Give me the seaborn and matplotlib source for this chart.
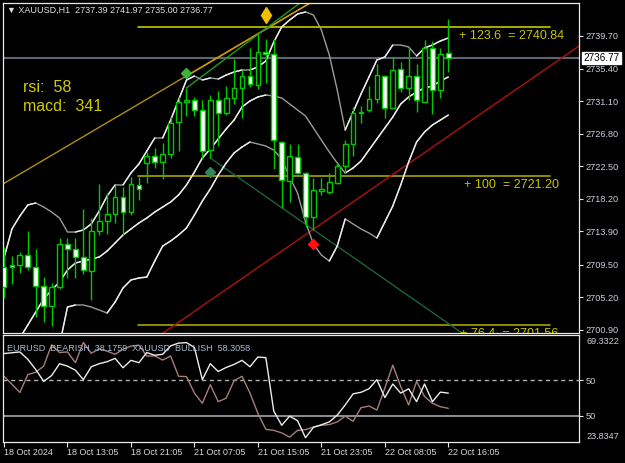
import matplotlib
matplotlib.use("Agg")
import matplotlib.pyplot as plt
import matplotlib.transforms as mtransforms
import seaborn as sns
import numpy as np
import pandas as pd

# ---------------- data ----------------
open_ = [2709.21, 2709.48, 2709.48, 2710.80, 2709.21, 2706.70, 2704.06, 2706.57, 2712.25, 2711.59,
         2710.53, 2708.68, 2713.96, 2715.28, 2716.21, 2718.45, 2716.47, 2720.04, 2722.94, 2723.86,
         2723.07, 2724.13, 2728.35, 2730.99, 2731.25, 2729.93, 2724.65, 2731.25, 2729.54, 2731.52,
         2732.84, 2734.42, 2733.23, 2737.59, 2737.32, 2725.71, 2720.56, 2723.73, 2721.62, 2715.81,
         2719.24, 2719.11, 2720.30, 2722.54, 2725.45, 2729.54, 2729.93, 2731.38, 2734.42, 2730.20,
         2735.34, 2732.84, 2734.42, 2730.99, 2738.12, 2732.57, 2737.39]
high = [2711.85, 2710.66, 2711.19, 2713.96, 2711.59, 2707.89, 2707.10, 2713.04, 2713.04, 2713.04,
        2716.87, 2715.68, 2720.17, 2718.98, 2720.04, 2719.77, 2721.09, 2721.09, 2724.39, 2724.92,
        2725.58, 2729.01, 2731.65, 2732.84, 2731.65, 2731.25, 2731.91, 2732.44, 2733.10, 2736.66,
        2735.21, 2738.12, 2740.10, 2739.30, 2739.30, 2725.90, 2725.45, 2725.45, 2721.75, 2720.96,
        2720.96, 2721.62, 2723.07, 2725.97, 2730.33, 2730.46, 2733.10, 2736.00, 2734.55, 2736.93,
        2736.27, 2738.12, 2736.00, 2739.17, 2739.04, 2738.12, 2741.97]
low = [2705.12, 2706.97, 2708.42, 2708.82, 2702.61, 2701.95, 2701.43, 2706.31, 2707.76, 2707.76,
       2708.29, 2704.86, 2713.44, 2713.57, 2715.02, 2713.44, 2716.08, 2718.06, 2720.30, 2722.28,
       2720.83, 2723.60, 2724.52, 2729.14, 2729.14, 2723.60, 2723.60, 2725.18, 2729.27, 2730.72,
       2728.88, 2732.97, 2732.70, 2733.50, 2722.15, 2717.00, 2717.79, 2721.49, 2714.49, 2714.10,
       2718.72, 2718.85, 2720.17, 2721.62, 2723.86, 2728.22, 2729.67, 2730.86, 2728.88, 2730.20,
       2732.31, 2731.25, 2729.67, 2730.99, 2729.41, 2731.52, 2735.00]
close = [2706.57, 2709.21, 2710.80, 2709.21, 2706.70, 2704.06, 2706.57, 2712.25, 2711.59, 2710.53,
         2708.82, 2713.96, 2715.28, 2716.21, 2718.45, 2716.47, 2720.17, 2719.51, 2723.86, 2723.07,
         2724.13, 2728.22, 2730.99, 2731.25, 2729.93, 2724.52, 2731.25, 2729.54, 2731.52, 2732.84,
         2734.42, 2733.37, 2737.59, 2737.32, 2725.97, 2720.70, 2723.86, 2721.62, 2715.81, 2719.38,
         2719.51, 2720.43, 2722.54, 2725.45, 2729.54, 2729.67, 2731.38, 2734.55, 2730.20, 2735.21,
         2732.84, 2734.42, 2731.25, 2738.12, 2732.57, 2737.32, 2736.77]

upper_band = [2710.40, 2714.23, 2715.94, 2717.40, 2717.66, 2717.13, 2716.47, 2715.68, 2713.83, 2713.83,
              2714.10, 2714.89, 2716.60, 2718.58, 2720.04, 2720.04, 2721.62, 2722.81, 2724.52, 2726.24,
              2726.24, 2728.61, 2731.25, 2733.89, 2734.42, 2733.89, 2734.16, 2734.02, 2734.55, 2734.95,
              2735.21, 2735.21, 2735.61, 2736.40, 2738.91, 2740.89, 2741.81, 2742.60, 2742.87, 2742.47,
              2740.49, 2737.19, 2732.57, 2727.29, 2729.67, 2732.05, 2734.29, 2736.53, 2736.93, 2738.51,
              2738.51, 2738.25, 2737.06, 2738.12, 2738.51, 2739.04, 2739.44]
middle_band = [np.nan, np.nan, 2699.84, 2701.56, 2703.27, 2704.99, 2706.18, 2707.23, 2708.82, 2709.74,
               2710.00, 2710.27, 2710.53, 2711.32, 2712.38, 2713.44, 2714.23, 2715.02, 2715.68, 2716.47,
               2717.13, 2717.79, 2718.72, 2720.04, 2721.75, 2723.60, 2724.79, 2726.11, 2727.43, 2728.61,
               2730.33, 2731.12, 2731.65, 2731.91, 2731.78, 2731.52, 2730.73, 2729.93, 2729.14, 2727.56,
               2725.97, 2724.39, 2722.94, 2721.62, 2722.28, 2723.20, 2724.65, 2726.11, 2727.56, 2729.01,
               2730.73, 2731.65, 2732.31, 2732.84, 2733.10, 2733.76, 2734.29]
lower_band = [np.nan, np.nan, np.nan, np.nan, np.nan, np.nan, np.nan, 2698.92, 2703.93, 2704.20,
              2704.20, 2703.93, 2703.54, 2703.14, 2704.59, 2706.44, 2707.50, 2707.76, 2707.89, 2710.00,
              2711.98, 2712.64, 2713.44, 2714.36, 2716.08, 2717.92, 2719.51, 2721.35, 2722.94, 2724.26,
              2725.05, 2725.71, 2725.45, 2725.18, 2724.65, 2723.47, 2721.09, 2718.98, 2715.15, 2712.25,
              2710.80, 2710.00, 2711.98, 2715.55, 2714.89, 2714.23, 2713.70, 2713.04, 2715.15, 2717.26,
              2720.04, 2723.07, 2725.71, 2727.03, 2727.96, 2728.61, 2729.27]

# sub-window lines
xauusd_line = [61.40, 61.75, 62.10, 58.93, 54.60, 49.53, 52.00, 57.07, 56.03, 54.30,
               50.26, 55.77, 57.07, 57.93, 59.36, 55.33, 58.50, 57.50, 61.83, 60.66,
               61.10, 64.69, 65.86, 66.08, 64.00, 50.26, 57.07, 53.73, 55.46, 56.76,
               58.50, 55.77, 59.93, 59.67, 36.83, 30.77, 34.67, 32.72, 25.44, 29.90,
               30.98, 32.20, 35.10, 39.43, 44.20, 44.85, 46.37, 50.26, 42.60, 48.40,
               44.50, 46.37, 40.86, 48.40, 40.86, 44.94, 44.50]
eurusd_line = [51.69, 48.32, 44.76, 52.43, 53.43, 56.03, 65.13, 61.83, 62.09, 57.50,
               66.17, 61.53, 63.48, 62.40, 61.10, 63.26, 64.56, 65.00, 60.36, 60.36,
               58.63, 60.36, 51.69, 51.56, 44.50, 40.17, 48.10, 40.86, 42.34, 49.83,
               51.69, 44.50, 35.84, 29.03, 28.60, 27.51, 25.70, 28.60, 28.90, 30.03,
               30.77, 31.07, 32.20, 34.67, 32.50, 38.26, 39.00, 37.27, 46.67, 56.46,
               47.36, 39.43, 49.53, 43.03, 40.17, 38.70, 38.00]

time_ticks = [0, 8, 16, 24, 32, 40, 48, 56]
time_labels = ["18 Oct 2024", "18 Oct 13:05", "18 Oct 21:05", "21 Oct 07:05",
               "21 Oct 15:05", "21 Oct 23:05", "22 Oct 08:05", "22 Oct 16:05"]
price_ticks = [2739.70, 2735.40, 2731.10, 2726.80, 2722.50, 2718.20, 2713.90, 2709.50, 2705.20, 2700.90]
current_price = 2736.77

fib_levels = [2740.84, 2721.20, 2701.56]
fib_labels = ["+ 123.6  = 2740.84", "+ 100  = 2721.20", "+ 76.4  = 2701.56"]
fib_label_x = [57.35, 58.0, 57.5]
fib_span = [16.9, 68.8]

gold_line_x, gold_line_y = [0, 40], [2720.25, 2744.93]
orange_line_x, orange_line_y = [23, 40], [2734.4, 2744.93]
green_line_x, green_line_y = [23, 38], [2732.84, 2744.6]
dkgreen_line_x, dkgreen_line_y = [26, 58], [2723.6, 2700.30]
red_line_x, red_line_y = [18, 73], [2699.03, 2738.76]

signal_x = [23, 26, 33, 39]
signal_y = [2734.82, 2721.71, 2742.47, 2712.25]

sub_levels = [50, 34.8]
sub_max, sub_min = 69.3322, 23.8347

# ---------------- style ----------------
sns.set_theme(style="dark", rc={"axes.facecolor": "black", "figure.facecolor": "black",
                                "axes.grid": False})
plt.rcParams['font.family'] = ['Liberation Sans', 'DejaVu Sans']

W, H = 625, 463
def box(l, t, r, b):
    return [l / W, 1 - b / H, (r - l) / W, (b - t) / H]

fig = plt.figure(figsize=(6.25, 4.63), dpi=100, facecolor='black')
ax = fig.add_axes(box(3, 2.5, 579, 332.5))
ax2 = fig.add_axes(box(3, 335, 579, 441.5))
for a in (ax, ax2):
    a.set_facecolor('black')
    for s in a.spines.values():
        s.set_color('#e8e8e8')
        s.set_linewidth(0.9)

x = np.arange(len(close))
o = np.array(open_); c = np.array(close); hi = np.array(high); lo = np.array(low)
XL = (-0.126, 72.47)

# current price line
ax.axhline(current_price, color='#5c6672', lw=1.5, zorder=1)

# fib levels
fib_colors = ['#c8c800', '#a8a400', '#a8a400']
for lev, col in zip(fib_levels, fib_colors):
    ax.plot(fib_span, [lev, lev], color=col, lw=1.2, zorder=1.5)
for lev, lab, lx in zip(fib_levels, fib_labels, fib_label_x):
    ax.annotate(lab, (lx, lev), xytext=(0, -6.3), textcoords='offset points',
                ha='left', va='center', color='#c8c400', fontsize=9,
                annotation_clip=False, clip_on=True, zorder=6)

# trend lines
ax.plot(gold_line_x, gold_line_y, color='#b08e10', lw=1.0, zorder=1.6)
ax.plot(orange_line_x, orange_line_y, color='#d09a00', lw=1.0, zorder=1.6)
ax.plot(green_line_x, green_line_y, color='#1e9a1e', lw=1.0, zorder=1.6)
ax.plot(dkgreen_line_x, dkgreen_line_y, color='#1f6b3c', lw=0.9, zorder=1.6)
ax.plot(red_line_x, red_line_y, color='#b01010', lw=1.0, zorder=1.6)

# bands (white when rising, grey when falling)
for band in (upper_band, middle_band, lower_band):
    v = np.array(band, dtype=float)
    df = pd.DataFrame({'bar': x, 'val': v}).dropna()
    sns.lineplot(data=df, x='bar', y='val', ax=ax, color='#9c9c9c', lw=1.0, zorder=2)
    for i in range(len(v) - 1):
        if np.isfinite(v[i]) and np.isfinite(v[i + 1]) and v[i + 1] > v[i]:
            ax.plot(x[i:i + 2], v[i:i + 2], color='#f0f0f0', lw=1.0, zorder=2.1)

# candles
green = '#00c800'
ax.vlines(x, lo, hi, color=green, lw=1.0, zorder=3)
bull = c >= o
body_lo = np.minimum(o, c)
body_h = np.maximum(np.abs(c - o), 0.18)
ax.bar(x, body_h, bottom=body_lo, width=0.6,
       color=['black' if b else 'white' for b in bull],
       edgecolor=green, linewidth=1.0, zorder=4)

# signal diamonds
sig_colors = ['#3cb43c', '#2e8b57', '#f0c000', '#ff1010']
sig_markers = ['D', 'D', 'd', 'D']
sig_sizes = [5.5, 5.5, 8, 5.5]
for sx, sy, sc, sm, ss in zip(signal_x, signal_y, sig_colors, sig_markers, sig_sizes):
    ax.plot([sx], [sy], marker=sm, color=sc, ms=ss, mec=sc, zorder=5, ls='none')

ax.set_xlim(*XL)
ax.set_ylim(2700.57, 2744.12)
ax.set_xticks([])
ax.yaxis.tick_right()
ax.set_yticks(price_ticks)
ax.set_yticklabels([f"{p:.2f}" for p in price_ticks])
ax.tick_params(axis='y', which='both', right=True, left=False, length=3, width=0.8,
               color='#e8e8e8', labelcolor='#c8d0d8', labelsize=6.6, pad=1.5)
ax.set_xlabel(''); ax.set_ylabel('')

# current price box
ax.annotate(f"{current_price:.2f}", (1.0, current_price),
            xycoords=mtransforms.blended_transform_factory(ax.transAxes, ax.transData),
            xytext=(3.2, 0), textcoords='offset points', ha='left', va='center',
            fontsize=7.2, color='black', annotation_clip=False, zorder=10,
            bbox=dict(boxstyle='square,pad=0.12', facecolor='white', edgecolor='white'))

# header & texts
ax.text(0.007, 0.977, "\u25bc XAUUSD,H1  2737.39 2741.97 2735.00 2736.77", transform=ax.transAxes,
        ha='left', va='center', color='#e0e0e0', fontsize=6.5, zorder=10)
ax.text(0.0347, 0.742, "rsi:  58", transform=ax.transAxes, ha='left', va='center',
        color='#d2cc00', fontsize=11.5, zorder=10)
ax.text(0.0347, 0.685, "macd:  341", transform=ax.transAxes, ha='left', va='center',
        color='#d2cc00', fontsize=11.5, zorder=10)

# ---------------- sub window ----------------
ax2.axhline(sub_levels[0], color='#b0b0b0', lw=1.0, ls=(0, (3, 2.5)), zorder=1)
ax2.axhline(sub_levels[1], color='#9a9a9a', lw=1.3, zorder=1)
sub_df = pd.DataFrame({'bar': np.concatenate([x, x]),
                       'val': np.concatenate([eurusd_line, xauusd_line]),
                       'pair': ['EURUSD'] * len(x) + ['XAUUSD'] * len(x)})
sns.lineplot(data=sub_df, x='bar', y='val', hue='pair', palette={'EURUSD': '#a57e78', 'XAUUSD': '#ececec'},
             ax=ax2, lw=1.0, legend=False, zorder=2)
ax2.set_xlim(*XL)
ax2.set_ylim(sub_min, sub_max)
ax2.set_xlabel(''); ax2.set_ylabel('')
ax2.yaxis.tick_right()
ax2.set_yticks(sub_levels)
ax2.set_yticklabels(['50', '50'])
ax2.tick_params(axis='y', right=True, left=False, length=3, width=0.8, color='#e8e8e8',
                labelcolor='#c8d0d8', labelsize=6.6, pad=1.5)
ax2.set_xticks(time_ticks)
ax2.set_xticklabels(time_labels)
ax2.tick_params(axis='x', bottom=True, length=3.5, width=0.8, color='#e8e8e8',
                labelcolor='#d8d8d8', labelsize=6.5, pad=1.5)
for lbl in ax2.get_xticklabels():
    lbl.set_ha('left')
bt = mtransforms.blended_transform_factory(ax2.transAxes, ax2.transData)
ax2.annotate(f"{sub_max:.4f}", (1.0, sub_max), xycoords=bt, xytext=(5.2, -5), textcoords='offset points',
             ha='left', va='center', fontsize=6.6, color='#c8d0d8', annotation_clip=False)
ax2.annotate(f"{sub_min:.4f}", (1.0, sub_min), xycoords=bt, xytext=(5.2, 3.3), textcoords='offset points',
             ha='left', va='center', fontsize=6.6, color='#c8d0d8', annotation_clip=False)
ax2.text(0.007, 0.87, "EURUSD  BEARISH  38.1759  XAUUSD  BULLISH  58.3058", transform=ax2.transAxes,
         ha='left', va='center', color='#a9bccf', fontsize=6.5, zorder=10)

fig.savefig('out.png', dpi=100, facecolor='black')
